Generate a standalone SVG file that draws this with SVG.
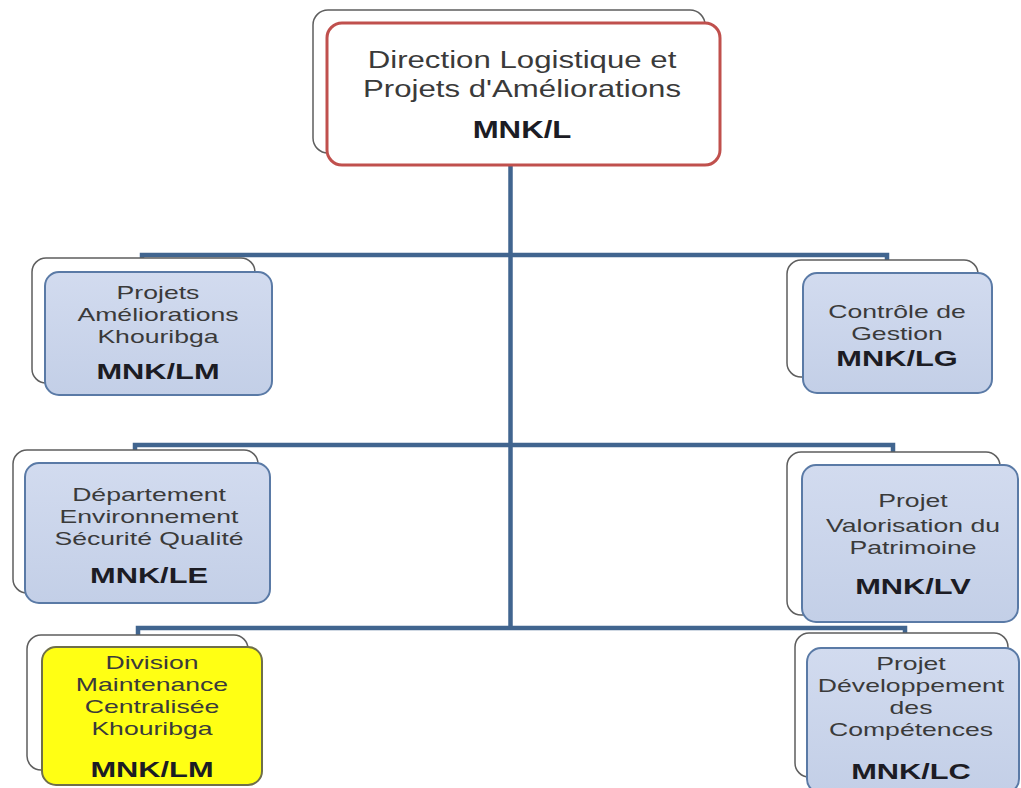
<svg xmlns="http://www.w3.org/2000/svg" width="1021" height="788" viewBox="0 0 1021 788">
  <defs>
    <linearGradient id="blueFill" x1="0" y1="0" x2="0" y2="1">
      <stop offset="0" stop-color="#d2dbef"/>
      <stop offset="1" stop-color="#c3cfe7"/>
    </linearGradient>
    <style>
      .back { fill: #ffffff; stroke: #5e5e5e; stroke-width: 1.5; }
      .top { fill: #ffffff; stroke: #c0504d; stroke-width: 3; }
      .blue { fill: url(#blueFill); stroke: #5a7aa6; stroke-width: 2; }
      .yellow { fill: #ffff14; stroke: #6f6f4a; stroke-width: 2; }
      .link { fill: none; stroke: #41658f; stroke-width: 4.5; stroke-linejoin: miter; }
      text { font-family: "Liberation Sans", Arial, sans-serif; text-anchor: middle; }
      .t { font-size: 19px; fill: #3a3a3a; }
      .c { font-size: 22px; font-weight: bold; fill: #1c1c24; }
      .tt { font-size: 24px; fill: #3a3a3a; }
      .ct { font-size: 24px; font-weight: bold; fill: #1c1c24; }
    </style>
  </defs>

  <rect width="1021" height="788" fill="#ffffff"/>

  <!-- connectors -->
  <g id="connectors">
    <path class="link" d="M510.5,165 V628"/>
    <path class="link" d="M142,259 V255 H887 V260"/>
    <path class="link" d="M135,451 V445 H893 V452"/>
    <path class="link" d="M138,635 V628 H905 V633"/>
  </g>

  <!-- top: Direction -->
  <g id="node-mnk-l">
    <rect class="back" x="313" y="10" width="392" height="143" rx="15"/>
    <rect class="top" x="327" y="23" width="393" height="142" rx="15"/>
    <g transform="translate(522 0) scale(1.3 1)">
      <text class="tt" x="0" y="68">Direction Logistique et</text>
      <text class="tt" x="0" y="97">Projets d'Améliorations</text>
      <text class="ct" x="0" y="138">MNK/L</text>
    </g>
  </g>

  <!-- Projets Améliorations Khouribga -->
  <g id="node-mnk-lm-projets">
    <rect class="back" x="32" y="258" width="223" height="125" rx="14"/>
    <rect class="blue" x="45" y="272" width="227" height="123" rx="14"/>
    <g transform="translate(158 0) scale(1.4 1)">
      <text class="t" x="0" y="299">Projets</text>
      <text class="t" x="0" y="321">Améliorations</text>
      <text class="t" x="0" y="343">Khouribga</text>
      <text class="c" x="0" y="379">MNK/LM</text>
    </g>
  </g>

  <!-- Contrôle de Gestion -->
  <g id="node-mnk-lg">
    <rect class="back" x="787" y="260" width="191" height="117" rx="14"/>
    <rect class="blue" x="803" y="273" width="189" height="120" rx="14"/>
    <g transform="translate(897 0) scale(1.4 1)">
      <text class="t" x="0" y="318">Contrôle de</text>
      <text class="t" x="0" y="340">Gestion</text>
      <text class="c" x="0" y="366">MNK/LG</text>
    </g>
  </g>

  <!-- Département Environnement Sécurité Qualité -->
  <g id="node-mnk-le">
    <rect class="back" x="13" y="450" width="245" height="143" rx="14"/>
    <rect class="blue" x="25" y="463" width="245" height="140" rx="14"/>
    <g transform="translate(149 0) scale(1.4 1)">
      <text class="t" x="0" y="501">Département</text>
      <text class="t" x="0" y="523">Environnement</text>
      <text class="t" x="0" y="545">Sécurité Qualité</text>
      <text class="c" x="0" y="583">MNK/LE</text>
    </g>
  </g>

  <!-- Projet Valorisation du Patrimoine -->
  <g id="node-mnk-lv">
    <rect class="back" x="787" y="452" width="213" height="163" rx="14"/>
    <rect class="blue" x="802" y="465" width="216" height="157" rx="14"/>
    <g transform="translate(913 0) scale(1.4 1)">
      <text class="t" x="0" y="507">Projet</text>
      <text class="t" x="0" y="532">Valorisation du</text>
      <text class="t" x="0" y="554">Patrimoine</text>
      <text class="c" x="0" y="594">MNK/LV</text>
    </g>
  </g>

  <!-- Division Maintenance Centralisée Khouribga -->
  <g id="node-mnk-lm-division">
    <rect class="back" x="27" y="635" width="221" height="135" rx="14"/>
    <rect class="yellow" x="42" y="647" width="220" height="138" rx="14"/>
    <g transform="translate(152 0) scale(1.4 1)">
      <text class="t" x="0" y="669">Division</text>
      <text class="t" x="0" y="691">Maintenance</text>
      <text class="t" x="0" y="713">Centralisée</text>
      <text class="t" x="0" y="735">Khouribga</text>
      <text class="c" x="0" y="777">MNK/LM</text>
    </g>
  </g>

  <!-- Projet Développement des Compétences -->
  <g id="node-mnk-lc">
    <rect class="back" x="795" y="633" width="213" height="144" rx="14"/>
    <rect class="blue" x="807" y="648" width="212" height="145" rx="14"/>
    <g transform="translate(911 0) scale(1.4 1)">
      <text class="t" x="0" y="670">Projet</text>
      <text class="t" x="0" y="692">Développement</text>
      <text class="t" x="0" y="714">des</text>
      <text class="t" x="0" y="736">Compétences</text>
      <text class="c" x="0" y="779">MNK/LC</text>
    </g>
  </g>
</svg>
